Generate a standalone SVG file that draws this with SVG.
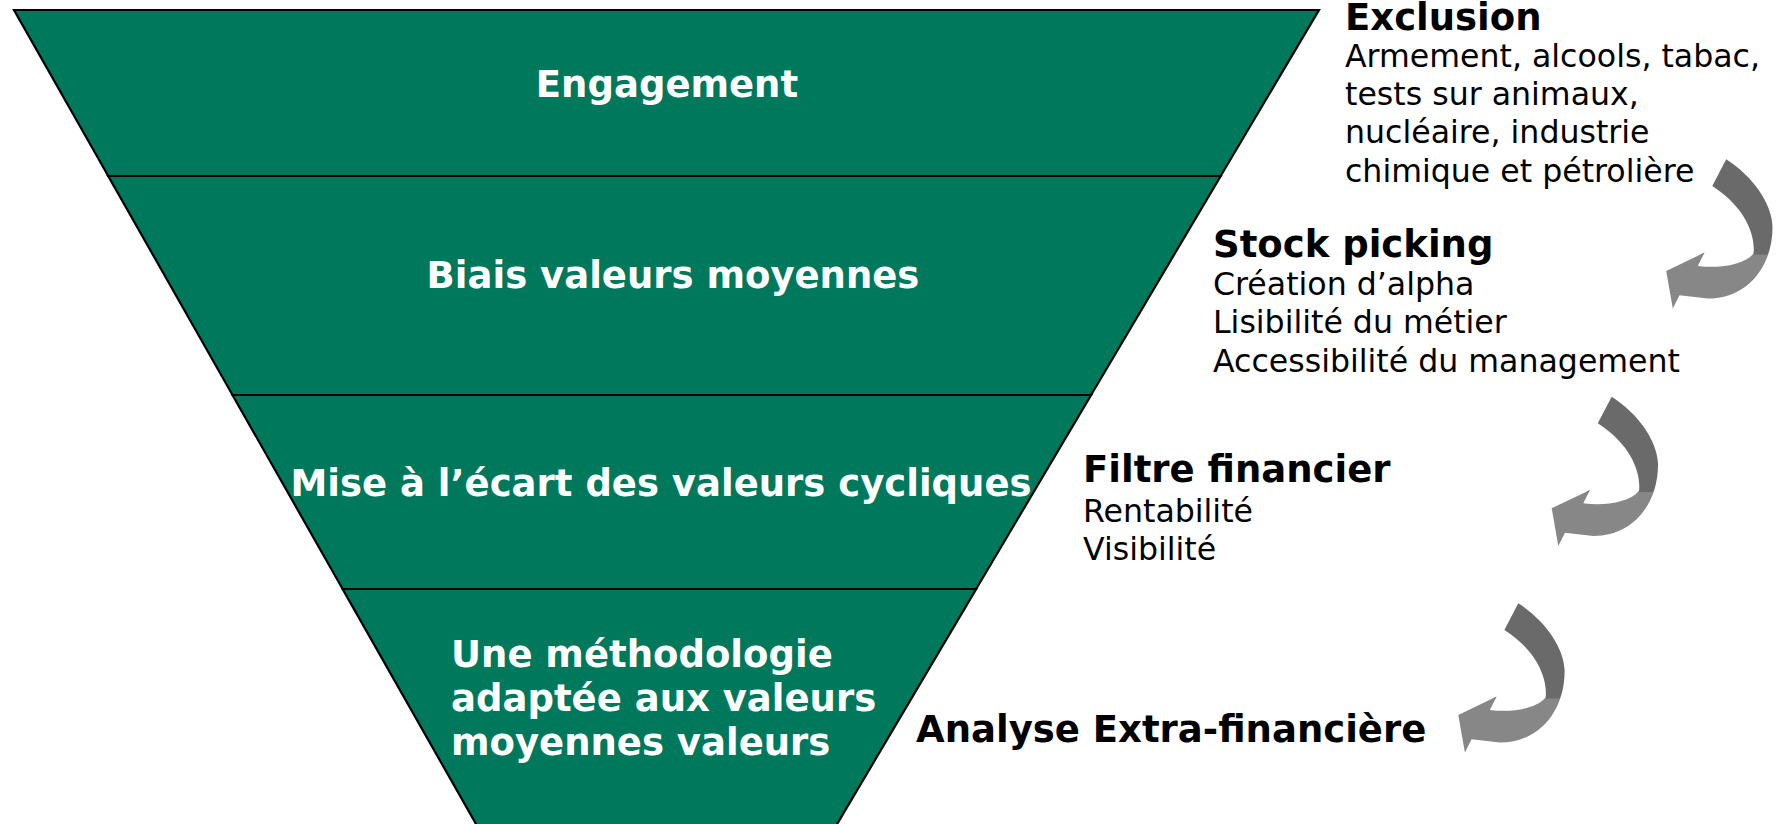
<svg xmlns="http://www.w3.org/2000/svg" xmlns:xlink="http://www.w3.org/1999/xlink" width="1778" height="824" viewBox="0 0 1778 824">
<style>
.band{fill:#00785b;stroke:#000;stroke-width:2.2;stroke-linejoin:miter}
.wt{font-family:"DejaVu Sans",Verdana,sans-serif;font-weight:bold;font-size:37px;fill:#fff}
.hd{font-family:"DejaVu Sans",Verdana,sans-serif;font-weight:bold;font-size:37px;fill:#000}
.bd{font-family:"DejaVu Sans",Verdana,sans-serif;font-size:31.6px;fill:#000}
</style>
<defs>
<linearGradient id="arrowFill" gradientUnits="userSpaceOnUse" x1="0" y1="0" x2="0" y2="155">
<stop offset="0" stop-color="#6a6a6a"/>
<stop offset="0.655" stop-color="#6a6a6a"/>
<stop offset="0.66" stop-color="#878787"/>
<stop offset="1" stop-color="#878787"/>
</linearGradient>
<path id="curvedArrow" fill="url(#arrowFill)" d="M71.7,6.7 C97.7,23.3 117,50 118,73.3 C118.7,112 94.3,146 53.3,146 L25,142.7 L18.3,156 L11.7,118.3 L50,100 L43.3,113.3 C63,116 89,113 99,101 C101,85 93,56 57.8,33.3 Z"/>
</defs>
<rect width="1778" height="824" fill="#fff"/>
<g id="funnel-engagement">
<polygon class="band" points="14,10 1319,10 1220.7,176 108.2,176"/>
<text class="wt" x="667" y="97" text-anchor="middle">Engagement</text>
</g>
<g id="funnel-biais">
<polygon class="band" points="108.2,176 1220.7,176 1091.1,395 232.5,395"/>
<text class="wt" x="673" y="288" text-anchor="middle">Biais valeurs moyennes</text>
</g>
<g id="funnel-cycliques">
<polygon class="band" points="232.5,395 1091.1,395 976.2,589 342.6,589"/>
<text class="wt" x="661" y="496" text-anchor="middle">Mise à l’écart des valeurs cycliques</text>
</g>
<g id="funnel-methodologie">
<polygon class="band" points="342.6,589 976.2,589 833.6,830 479.4,830"/>
<text class="wt" x="451" y="667">Une méthodologie</text>
<text class="wt" x="451" y="711">adaptée aux valeurs</text>
<text class="wt" x="451" y="755">moyennes valeurs</text>
</g>
<g id="label-exclusion">
<text class="hd" x="1345" y="30">Exclusion</text>
<text class="bd" x="1345" y="67">Armement, alcools, tabac,</text>
<text class="bd" x="1345" y="105">tests sur animaux,</text>
<text class="bd" x="1345" y="143">nucléaire, industrie</text>
<text class="bd" x="1345" y="182">chimique et pétrolière</text>
</g>
<g id="label-stock">
<text class="hd" x="1213" y="257">Stock picking</text>
<text class="bd" x="1213" y="295">Création d’alpha</text>
<text class="bd" x="1213" y="333">Lisibilité du métier</text>
<text class="bd" x="1213" y="372">Accessibilité du management</text>
</g>
<g id="label-filtre">
<text class="hd" x="1083" y="482">Filtre financier</text>
<text class="bd" x="1083" y="522">Rentabilité</text>
<text class="bd" x="1083" y="560">Visibilité</text>
</g>
<g id="label-analyse">
<text class="hd" x="916" y="742">Analyse Extra-financière</text>
</g>
<g id="connectors">
<use xlink:href="#curvedArrow" href="#curvedArrow" transform="translate(1654.5,152.6)"/>
<use xlink:href="#curvedArrow" href="#curvedArrow" transform="translate(1540,390)"/>
<use xlink:href="#curvedArrow" href="#curvedArrow" transform="translate(1446.6,596.6)"/>
</g>
</svg>
